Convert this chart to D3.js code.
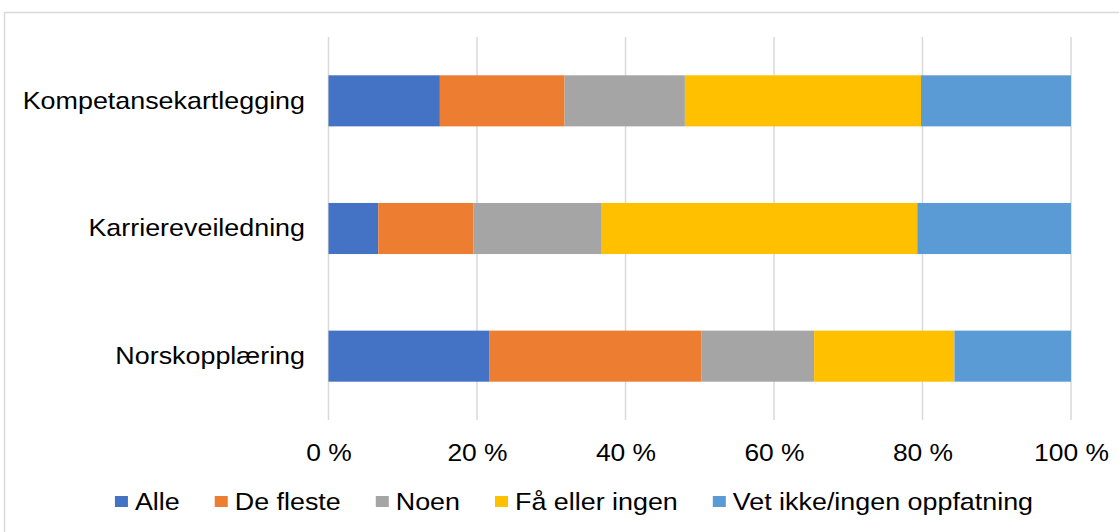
<!DOCTYPE html>
<html>
<head>
<meta charset="utf-8">
<script src="https://cdn.jsdelivr.net/npm/d3@7"></script>
<style>
  body { margin: 0; background: #fff; }
  text { font-family: "Liberation Sans", Arial, sans-serif; fill: #000; }
</style>
</head>
<body>
<div id="chart"></div>
<script>
// data (percent of each row)
const categories = ["Kompetansekartlegging", "Karriereveiledning", "Norskopplæring"];
const seriesNames = ["Alle", "De fleste", "Noen", "Få eller ingen", "Vet ikke/ingen oppfatning"];
const alle = [15.0, 6.7, 21.7];
const deFleste = [16.8, 12.8, 28.5];
const noen = [16.2, 17.3, 15.2];
const faaEllerIngen = [31.8, 42.5, 18.9];
const vetIkke = [20.2, 20.7, 15.7];
const tickValues = [0, 20, 40, 60, 80, 100];
const tickLabels = ["0 %", "20 %", "40 %", "60 %", "80 %", "100 %"];
const colors = ["#4472C4", "#ED7D31", "#A5A5A5", "#FFC000", "#5B9BD5"];

const seriesValues = [alle, deFleste, noen, faaEllerIngen, vetIkke];
const rows = categories.map((c, i) => {
  const r = { category: c };
  seriesNames.forEach((s, j) => r[s] = seriesValues[j][i]);
  return r;
});

var width = 1119
var height = 532
var stretch = 1.1   // text in the picture is a bit wide

var svg = d3.select("#chart")
  .append("svg")
    .attr("width", width)
    .attr("height", height);

// chart border
svg.append("rect")
  .attr("x", 4.5).attr("y", 12.5)
  .attr("width", 1130).attr("height", 540)
  .attr("fill", "none")
  .attr("stroke", "#d9d9d9")
  .attr("stroke-width", 1.5);

var x = d3.scaleLinear().domain([0, 100]).range([328.5, 1071]);
var y = d3.scaleBand().domain(categories).range([37, 420])
  .paddingInner(0.6).paddingOuter(0.3);
var color = d3.scaleOrdinal().domain(seriesNames).range(colors);

// vertical gridlines
svg.append("g")
  .selectAll("line")
  .data(tickValues)
  .enter()
  .append("line")
    .attr("x1", d => x(d)).attr("x2", d => x(d))
    .attr("y1", 37).attr("y2", 420)
    .attr("stroke", "#d9d9d9")
    .attr("stroke-width", 1.5);

// stacked bars
var stacked = d3.stack().keys(seriesNames)(rows);

svg.append("g")
  .selectAll("g")
  .data(stacked)
  .enter()
  .append("g")
    .attr("fill", d => color(d.key))
  .selectAll("rect")
  .data(d => d)
  .enter()
  .append("rect")
    .attr("x", d => x(d[0]))
    .attr("width", d => x(d[1]) - x(d[0]))
    .attr("y", d => y(d.data.category))
    .attr("height", y.bandwidth());

// x axis labels
var xAxis = svg.append("g")
  .attr("transform", "translate(0,461)")
  .call(d3.axisBottom(x).tickValues(tickValues)
    .tickFormat((d, i) => tickLabels[i]).tickSize(0).tickPadding(0));
xAxis.select(".domain").remove();
xAxis.selectAll("text")
  .attr("y", 0).attr("dy", 0)
  .attr("font-size", 24)
  .attr("fill", "#000")
  .attr("transform", "scale(" + stretch + ",1)")
  .attr("x", 0);

// y axis labels
var yAxis = svg.append("g")
  .attr("transform", "translate(305,0)")
  .call(d3.axisLeft(y).tickSize(0).tickPadding(0));
yAxis.select(".domain").remove();
yAxis.selectAll("text")
  .attr("x", 0).attr("dy", "0.33em")
  .attr("font-size", 24)
  .attr("fill", "#000")
  .attr("transform", "scale(1.12,1)");

// legend
var legendStretch = 1.12;
var legend = svg.append("g");
var items = legend.selectAll("g")
  .data(seriesNames)
  .enter()
  .append("g");
items.append("rect")
  .attr("width", 13).attr("height", 11)
  .attr("y", -6)
  .attr("fill", d => color(d));
items.append("text")
  .attr("font-size", 24)
  .attr("dy", "0.35em")
  .attr("transform", "translate(20,0) scale(" + legendStretch + ",1)")
  .text(d => d);

var pos = 0;
var offsets = [];
items.each(function(d) {
  var w = d3.select(this).select("text").node().getComputedTextLength() * legendStretch;
  offsets.push(pos);
  pos += 20 + w + 35;
});
var total = pos - 35;
var startX = 574 - total / 2;
items.attr("transform", (d, i) => "translate(" + (startX + offsets[i]) + ",502)");
</script>
</body>
</html>
